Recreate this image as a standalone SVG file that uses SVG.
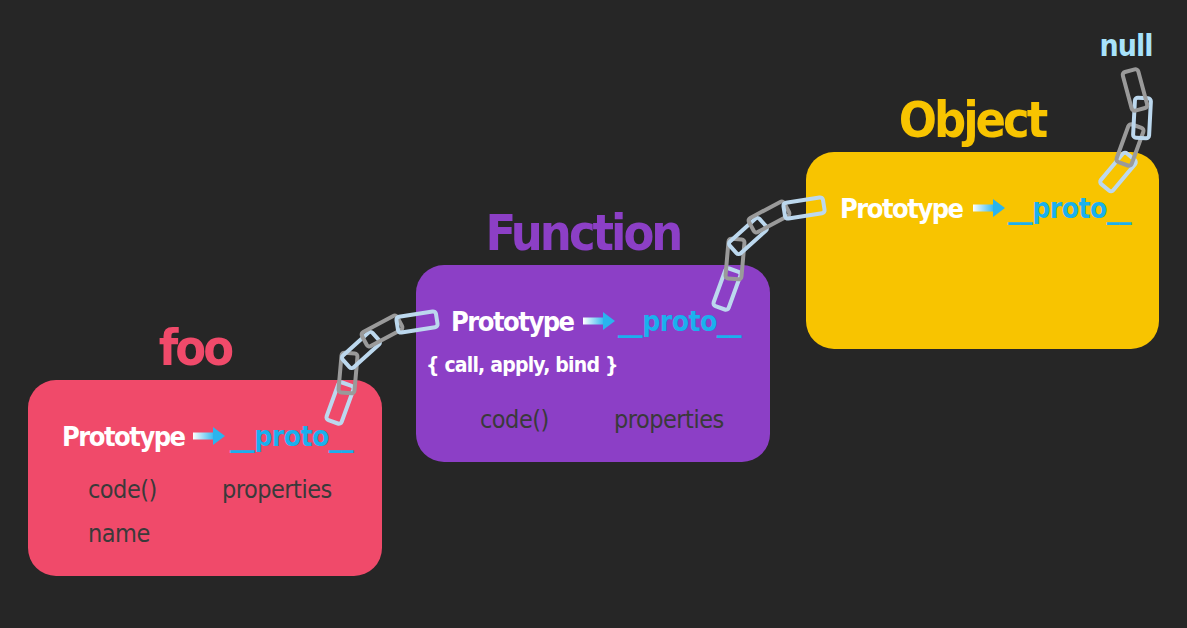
<svg xmlns="http://www.w3.org/2000/svg" width="1187" height="628" viewBox="0 0 1187 628">
<defs>
<style>
text{font-family:"DejaVu Sans","Liberation Sans",sans-serif;font-stretch:condensed}
.t{font-size:50px;font-weight:bold;text-anchor:middle;letter-spacing:-3px}
.p{font-size:27px;font-weight:bold;fill:#fff;letter-spacing:-1.5px}
.r{font-size:28px;font-weight:bold;fill:#1ab0ee;letter-spacing:-0.5px}
.g{font-size:25px;fill:#3a3a3a;letter-spacing:-0.5px}
.lb{fill:none;stroke:#bcd8ee;stroke-width:4}
.gr{fill:none;stroke:#9a9a9a;stroke-width:4}
</style>
<linearGradient id="ag" x1="0" x2="1"><stop offset="0" stop-color="#fff"/><stop offset="1" stop-color="#2ab4ee"/></linearGradient>
<g id="arr"><rect x="0" y="-3.5" width="22" height="7" fill="url(#ag)"/><path d="M20,-9 L32,0 L20,9Z" fill="#2ab4ee"/></g>
<rect id="L" x="-8" y="-20" width="16" height="40" rx="3"/>
<g id="chain">
<use href="#L" class="lb" transform="translate(340,403) rotate(20)"/>
<use href="#L" class="gr" transform="translate(348,373) rotate(5)"/>
<use href="#L" class="lb" transform="translate(361,350) rotate(48)"/>
<use href="#L" class="gr" transform="translate(382,331) rotate(62)"/>
<use href="#L" class="lb" transform="translate(417,322) rotate(81)"/>
</g>
</defs>
<rect width="1187" height="628" fill="#262626"/>
<g id="foo">
<text class="t" x="195" y="365" fill="#f04a6a">foo</text>
<rect x="28" y="380" width="354" height="196" rx="28" fill="#f04a6a"/>
<text class="p" x="62" y="446">Prototype</text>
<use href="#arr" x="193" y="436"/>
<text class="r" x="230" y="446">__proto__</text>
<text class="g" x="88" y="498">code()</text>
<text class="g" x="222" y="498">properties</text>
<text class="g" x="88" y="542">name</text>
</g>
<g id="function">
<text class="t" x="583" y="250" fill="#8c3fc6">Function</text>
<rect x="416" y="265" width="354" height="197" rx="28" fill="#8c3fc6"/>
<text class="p" x="451" y="331">Prototype</text>
<use href="#arr" x="583" y="321"/>
<text class="r" x="618" y="331">__proto__</text>
<text x="426" y="372" font-size="21" font-weight="bold" fill="#fff" letter-spacing="-0.8">{ call, apply, bind }</text>
<text class="g" x="480" y="428">code()</text>
<text class="g" x="614" y="428">properties</text>
</g>
<g id="object">
<text class="t" x="972" y="137" fill="#f8c400">Object</text>
<rect x="806" y="152" width="353" height="197" rx="28" fill="#f8c400"/>
<text class="p" x="840" y="218">Prototype</text>
<use href="#arr" x="973" y="208"/>
<text class="r" x="1008" y="218">__proto__</text>
</g>
<g id="null">
<text x="1126" y="56" font-size="30" font-weight="bold" fill="#a8e2fa" text-anchor="middle" letter-spacing="-1">null</text>
</g>
<g id="connectors">
<use href="#chain"/>
<use href="#chain" transform="translate(387,-114)"/>
<use href="#L" class="lb" transform="translate(1118,172) rotate(40)"/>
<use href="#L" class="gr" transform="translate(1130,145) rotate(20)"/>
<use href="#L" class="lb" transform="translate(1142,118) rotate(3)"/>
<use href="#L" class="gr" transform="translate(1135,90) rotate(-15)"/>
</g>
</svg>
